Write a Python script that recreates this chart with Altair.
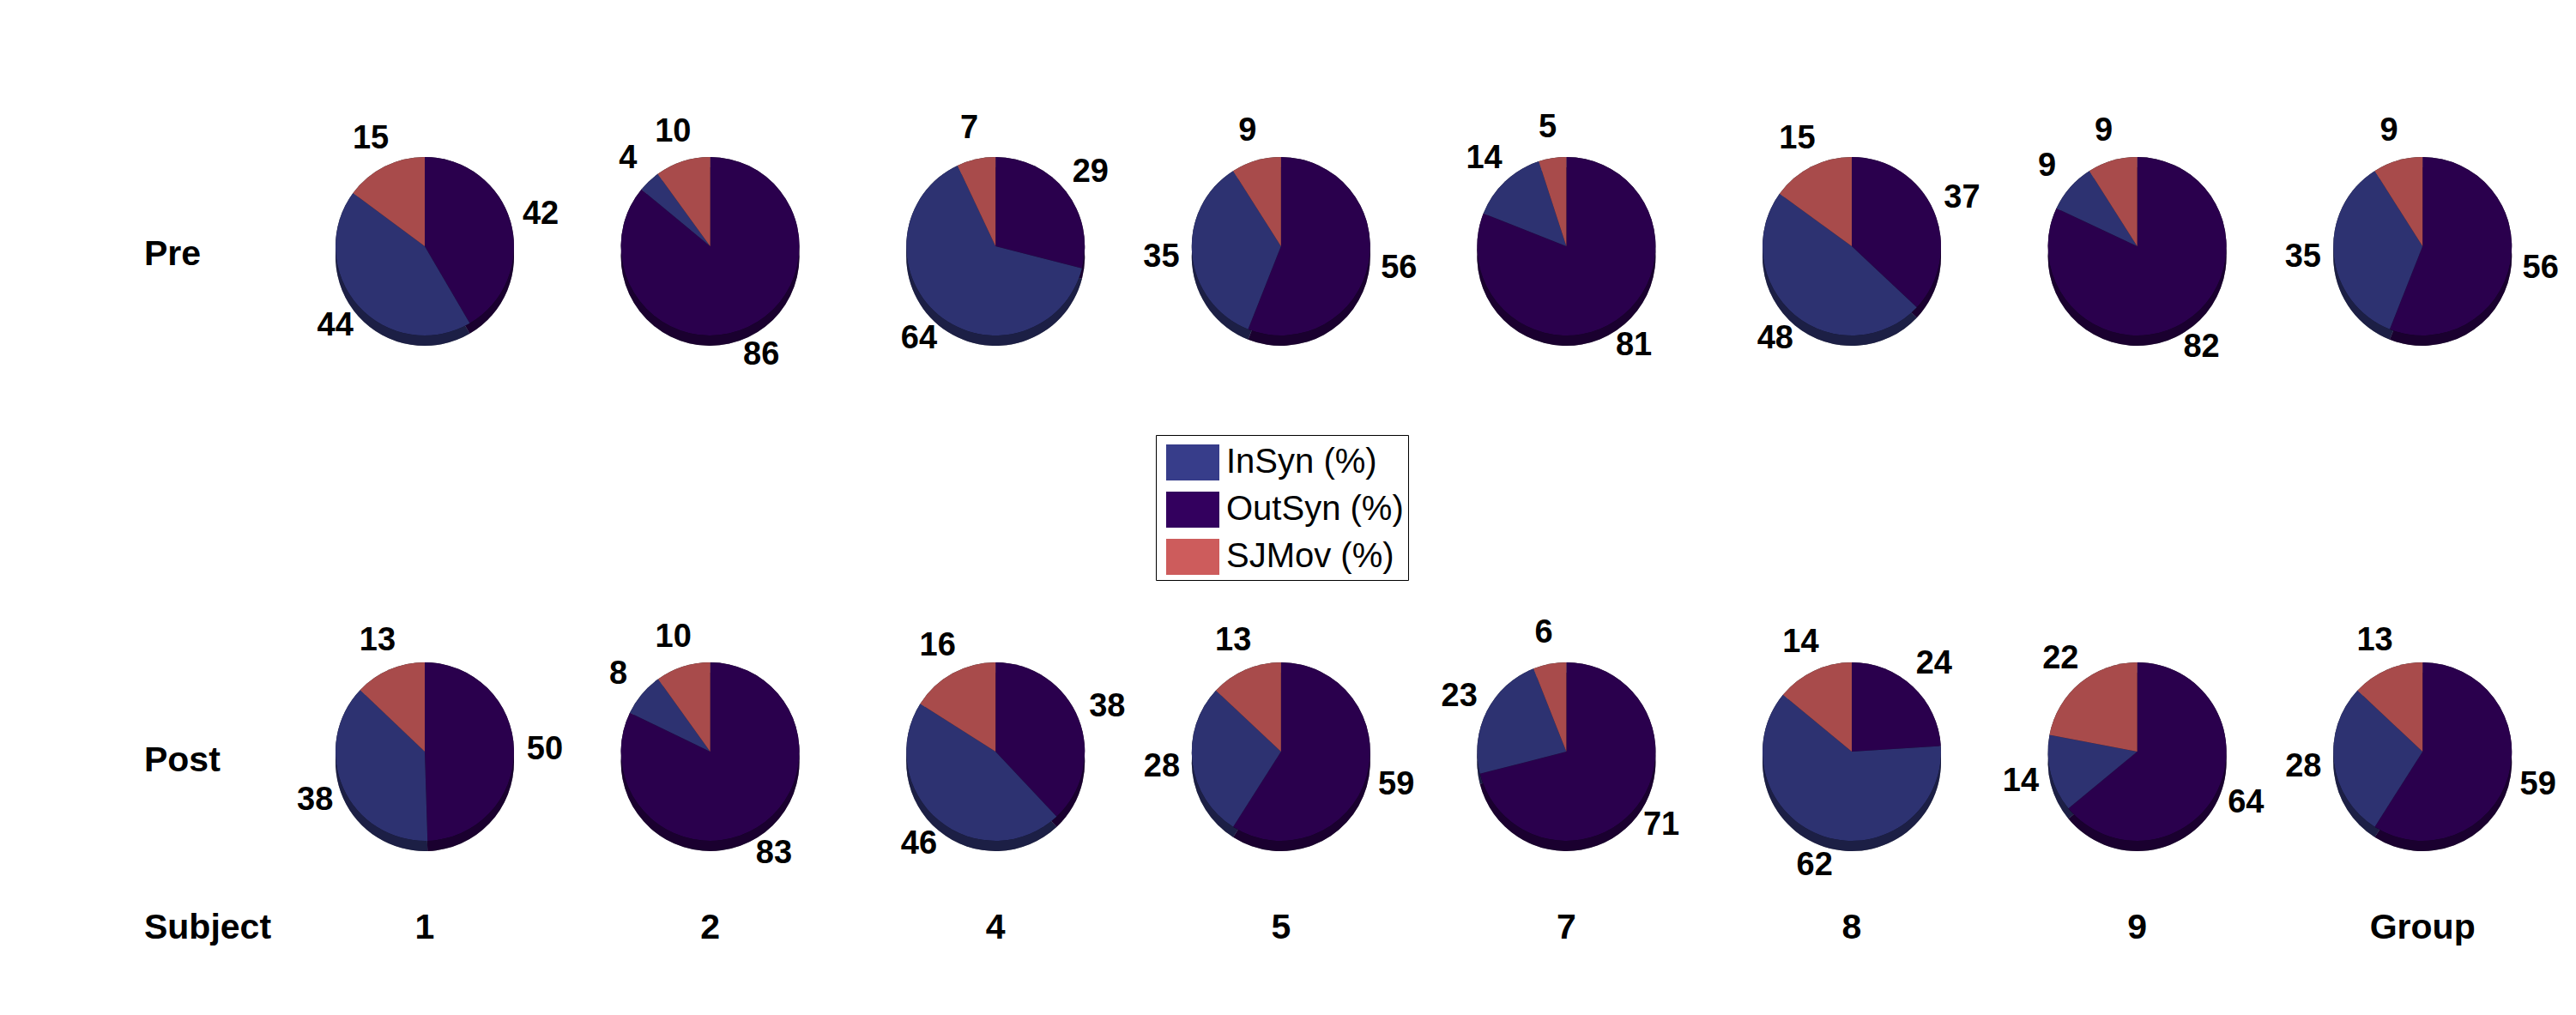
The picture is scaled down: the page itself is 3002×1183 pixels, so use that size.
import altair as alt
import pandas as pd

# ---- data ----
subjects = ["1", "2", "4", "5", "7", "8", "9", "Group"]
phases = ["Pre", "Post"]
categories = ["InSyn (%)", "OutSyn (%)", "SJMov (%)"]
pre_insyn = [44, 4, 64, 35, 14, 48, 9, 35]
pre_outsyn = [42, 86, 29, 56, 81, 37, 82, 56]
pre_sjmov = [15, 10, 7, 9, 5, 15, 9, 9]
post_insyn = [38, 8, 46, 28, 23, 62, 14, 28]
post_outsyn = [50, 83, 38, 59, 71, 24, 64, 59]
post_sjmov = [13, 10, 16, 13, 6, 14, 22, 13]
legend_colors = ["#373D8A", "#33005E", "#CD5C5C"]
row_label_text = ["Pre", "Post", "Subject"]

# slice order clockwise from 12 o'clock (as in the reference)
draw_order = ["OutSyn (%)", "InSyn (%)", "SJMov (%)"]

series = {
    "Pre": {"InSyn (%)": pre_insyn, "OutSyn (%)": pre_outsyn, "SJMov (%)": pre_sjmov},
    "Post": {"InSyn (%)": post_insyn, "OutSyn (%)": post_outsyn, "SJMov (%)": post_sjmov},
}

rows = []
for r, ph in enumerate(phases):
    for c, subj in enumerate(subjects):
        vals = {k: series[ph][k][c] for k in categories}
        total = sum(vals.values())
        cum = 0
        for cat in draw_order:
            v = vals[cat]
            start = cum / total * 100
            end = (cum + v) / total * 100
            rows.append(dict(col=c, row=r, cat=cat, value=v, start=start, end=end,
                             mid=(start + end) / 2, label=str(v)))
            cum += v
df = pd.DataFrame(rows)

row_labels = pd.DataFrame({"col": [-0.9832] * 3, "row": [0.017, 1.019, 1.350], "t": row_label_text})
col_labels = pd.DataFrame({"col": list(range(len(subjects))), "row": [1.350] * len(subjects), "t": subjects})

xs = alt.Scale(domain=[-1.4642, 7.5135], nice=False, zero=False)
ys = alt.Scale(domain=[-0.4737, 1.4958], reverse=True, nice=False, zero=False)
ts = alt.Scale(domain=[0, 100], range=[0, 6.283185307])

X = alt.X("col:Q", scale=xs, axis=None)
Y = alt.Y("row:Q", scale=ys, axis=None)

legend = alt.Legend(
    title=None, orient="none", legendX=1339, legendY=499,
    symbolType="M-0.741,-0.778H1.556V0.778H-0.741Z", symbolSize=2916,
    symbolOpacity=1, symbolStrokeWidth=0,
    labelFontSize=40, labelFont="Liberation Sans", labelColor="black",
    labelOffset=23, labelLimit=500, rowPadding=6, padding=5,
    strokeColor="black", fillColor="white",
)
color = alt.Color("cat:N", scale=alt.Scale(domain=categories, range=legend_colors), legend=legend)

base = alt.Chart(df).encode(
    x=X, y=Y,
    theta=alt.Theta("start:Q", scale=ts, stack=False),
    theta2="end:Q",
)

R = 104
RIM = 12
rim_black = base.mark_arc(radius=R, yOffset=RIM, fill="black")
rim_color = base.mark_arc(radius=R, yOffset=RIM, opacity=0.5).encode(color=color)
top_black = base.mark_arc(radius=R, fill="black")
top_color = base.mark_arc(radius=R, opacity=0.82).encode(color=color)

labels = alt.Chart(df).mark_text(
    radius=140, fontSize=38, fontWeight="bold", font="Liberation Sans",
    color="black", align="center", baseline="middle",
).encode(
    x=X, y=Y,
    theta=alt.Theta("mid:Q", scale=ts, stack=False),
    text="label:N",
)

row_text = alt.Chart(row_labels).mark_text(
    fontSize=41, fontWeight="bold", font="Liberation Sans", color="black",
    align="left", baseline="middle",
).encode(x=X, y=Y, text="t:N")

col_text = alt.Chart(col_labels).mark_text(
    fontSize=41, fontWeight="bold", font="Liberation Sans", color="black",
    align="center", baseline="middle",
).encode(x=X, y=Y, text="t:N")

chart = alt.layer(
    rim_black, rim_color, top_black, top_color, labels, row_text, col_text
).properties(
    width=2986, height=1160, padding=0, background="white"
).configure_view(stroke=None)

chart.save("out.html", embed_options={"renderer": "svg", "actions": False})
